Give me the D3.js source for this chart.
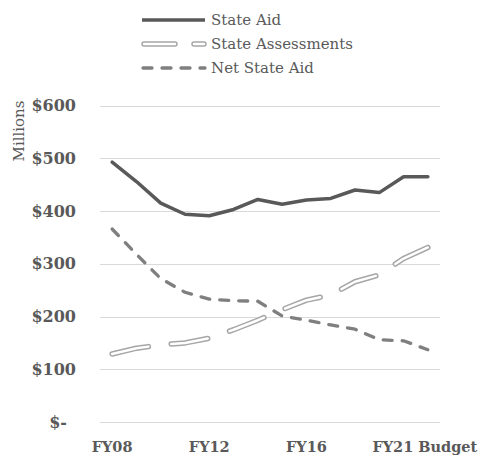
<!DOCTYPE html>
<html><head><meta charset="utf-8">
<script src="https://cdn.jsdelivr.net/npm/d3@7"></script>
<style>html,body{margin:0;padding:0;background:#fff}svg{display:block}</style>
</head><body>
<script>
const categories = ["FY08","FY09","FY10","FY11","FY12","FY13","FY14","FY15","FY16","FY17","FY18","FY19","FY20","FY21 Budget"];
const stateAid = [493,456,415,394,391,403,422,413,421,424,440,435,465,465];
const stateAssessments = [129,140,146,150,159,175,193,213,231,241,266,279,310,331];
const netStateAid = [366,318,272,246,233,230,229,201,193,184,176,156,154,137];
const xTickLabels = ["FY08","FY12","FY16","FY21 Budget"];
const yTicks = [0,100,200,300,400,500,600];
const seriesNames = ["State Aid","State Assessments","Net State Aid"];

const W=484,H=458;
const svg=d3.select("body").append("svg").attr("width",W).attr("height",H);
const x=d3.scaleBand().domain(categories).range([100,440]);
const cx=c=>x(c)+x.bandwidth()/2;
const y=d3.scaleLinear().domain([0,600]).range([422,105.6]);
const serif="'DejaVu Serif', serif";
const textCol="#595959";

// gridlines
svg.append("g").selectAll("line").data(yTicks).join("line")
  .attr("x1",100).attr("x2",440).attr("y1",d=>Math.round(y(d))+0.5).attr("y2",d=>Math.round(y(d))+0.5)
  .attr("stroke","#d9d9d9").attr("stroke-width",1);

// y tick labels
svg.append("g").selectAll("text").data(yTicks).join("text")
  .attr("x",d=>d===0?67:76).attr("y",d=>y(d)).attr("dy","0.35em")
  .attr("text-anchor","end").attr("font-family",serif).attr("font-weight","bold")
  .attr("font-size",16).attr("fill",textCol)
  .text(d=>d===0?"$-":"$"+d);

// y axis title
svg.append("text").attr("transform","translate(24,131) rotate(-90)")
  .attr("text-anchor","middle").attr("font-family",serif).attr("font-size",15)
  .attr("fill",textCol).text("Millions");

// x tick labels
svg.append("g").selectAll("text").data(xTickLabels).join("text")
  .attr("x",(d,i)=>cx(d)-(i===xTickLabels.length-1?3:0)).attr("y",452).attr("text-anchor","middle")
  .attr("font-family",serif).attr("font-weight","bold").attr("font-size",14.5)
  .attr("fill",textCol).text(d=>d);

const line=vals=>d3.line().x((d,i)=>cx(categories[i])).y(d=>y(d))(vals);

// State Assessments (double line, long dash)
const assessD=line(stateAssessments);
svg.append("path").attr("d",assessD).attr("fill","none").attr("stroke","#a6a6a6")
  .attr("stroke-width",5.5).attr("stroke-dasharray","37,23").attr("stroke-linecap","round").attr("stroke-linejoin","round");
svg.append("path").attr("d",assessD).attr("fill","none").attr("stroke","#fff")
  .attr("stroke-width",2.5).attr("stroke-dasharray","37,23").attr("stroke-linecap","round").attr("stroke-linejoin","round");

// Net State Aid dashed
svg.append("path").attr("d",line(netStateAid)).attr("fill","none").attr("stroke","#7f7f7f")
  .attr("stroke-width",3.3).attr("stroke-dasharray","9,10").attr("stroke-linecap","round").attr("stroke-linejoin","round");

// State Aid
svg.append("path").attr("d",line(stateAid)).attr("fill","none").attr("stroke","#595959")
  .attr("stroke-width",3.5).attr("stroke-linejoin","round").attr("stroke-linecap","round");

// Legend
const lg=svg.append("g");
const ly=[20,44,68];
lg.append("line").attr("x1",142).attr("x2",205).attr("y1",ly[0]).attr("y2",ly[0])
  .attr("stroke","#595959").attr("stroke-width",3.5);
lg.append("line").attr("x1",144).attr("x2",204).attr("y1",ly[1]).attr("y2",ly[1])
  .attr("stroke","#a6a6a6").attr("stroke-width",5.5).attr("stroke-dasharray","31,19").attr("stroke-linecap","round");
lg.append("line").attr("x1",144).attr("x2",204).attr("y1",ly[1]).attr("y2",ly[1])
  .attr("stroke","#fff").attr("stroke-width",2.5).attr("stroke-dasharray","31,19").attr("stroke-linecap","round");
lg.append("line").attr("x1",143).attr("x2",205).attr("y1",ly[2]).attr("y2",ly[2])
  .attr("stroke","#7f7f7f").attr("stroke-width",3.3).attr("stroke-dasharray","9,10").attr("stroke-linecap","round");
lg.selectAll("text").data(seriesNames).join("text")
  .attr("x",211).attr("y",(d,i)=>ly[i]).attr("dy","0.35em")
  .attr("font-family",serif).attr("font-size",15).attr("fill",textCol).text(d=>d);
</script>
</body></html>
